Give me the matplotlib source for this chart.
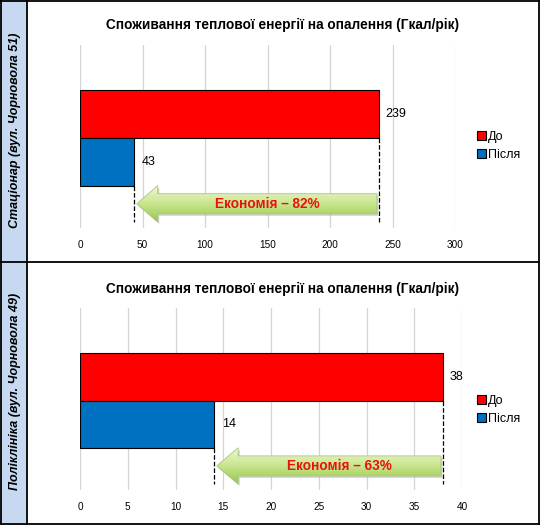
import numpy as np
import matplotlib
matplotlib.use("Agg")
import matplotlib.pyplot as plt
from matplotlib.patches import Polygon, Rectangle
from matplotlib.lines import Line2D

plt.rcParams['font.family'] = ['Liberation Sans', 'DejaVu Sans']

# --- données ---
titre = "Споживання теплової енергії на опалення (Гкал/рік)"
batiments = ["Стаціонар (вул. Чорновола 51)", "Поліклініка (вул. Чорновола 49)"]
series = ["До", "Після"]
avant = [239, 38]
apres = [43, 14]
economie = ["Економія – 82%", "Економія – 63%"]
x_max = [300, 40]
x_pas = [50, 5]

ROUGE = "#ff0000"
BLEU = "#0070c0"

fig = plt.figure(figsize=(5.4, 5.25), dpi=100)
W, H = 540, 525

# bande bleue à gauche + cadre
fig.add_artist(Rectangle((0, 0), 27 / W, 1, transform=fig.transFigure,
                         facecolor="#c6d9f1", edgecolor="none", zorder=0))
for xs, ys in [([1 / W, 1 / W], [0, 1]), ([539 / W, 539 / W], [0, 1]),
               ([27 / W, 27 / W], [0, 1]), ([0, 1], [1 / H, 1 / H]),
               ([0, 1], [524 / H, 524 / H]), ([0, 1], [263 / H, 263 / H])]:
    fig.add_artist(Line2D(xs, ys, transform=fig.transFigure, color="black", lw=1.3))

# positions des panneaux (en pixels)
ax_pos = [(80, 455, 45, 228), (80, 462, 308, 490)]
titre_y = [25, 289]
label_y = [130, 391]

gradient = np.linspace(0, 1, 64).reshape(-1, 1)
cmap_vert = matplotlib.colors.LinearSegmentedColormap.from_list(
    "vert", ["#f2f9d6", "#c9e58f", "#97c94c"])

for i in range(2):
    x0, x1, y0, y1 = ax_pos[i]
    ax = fig.add_axes([x0 / W, 1 - y1 / H, (x1 - x0) / W, (y1 - y0) / H])
    xm = x_max[i]

    b1 = ax.barh(1, avant[i], height=1, color=ROUGE, edgecolor="black", lw=0.8,
                 label=series[0], zorder=3)
    b2 = ax.barh(0, apres[i], height=1, color=BLEU, edgecolor="black", lw=0.8,
                 label=series[1], zorder=3)

    ax.text(avant[i] + xm * 0.017, 1, str(avant[i]), va="center", ha="left", fontsize=9)
    ax.text(apres[i] + xm * 0.021, 0, str(apres[i]), va="center", ha="left", fontsize=9)

    # pointillés
    y_bas = -1.25
    ax.plot([apres[i], apres[i]], [-0.5, y_bas], ls="--", color="black", lw=0.9, zorder=4)
    ax.plot([avant[i], avant[i]], [0.5, y_bas], ls="--", color="black", lw=0.9, zorder=4)

    # flèche d'économie
    pointe = apres[i] + xm * 0.008
    queue = avant[i] - xm * 0.005
    tete = xm * 0.056
    yc, hh, hc = -0.87, 0.38, 0.21
    pts = [(pointe, yc), (pointe + tete, yc + hh), (pointe + tete, yc + hc),
           (queue, yc + hc), (queue, yc - hc), (pointe + tete, yc - hc),
           (pointe + tete, yc - hh)]
    ombre = Polygon([(px + xm * 0.004, py - 0.04) for px, py in pts], closed=True,
                    facecolor="#b0b0b0", edgecolor="none", alpha=0.6, zorder=4)
    ax.add_patch(ombre)
    fl = Polygon(pts, closed=True, facecolor="none", edgecolor="#a8c878", lw=0.6, zorder=6)
    ax.add_patch(fl)
    im = ax.imshow(gradient, cmap=cmap_vert, aspect="auto", origin="upper",
                   extent=[pointe, queue, yc - hh, yc + hh], zorder=5)
    im.set_clip_path(fl)
    ax.text((pointe + tete + queue) / 2, yc, economie[i], color="#e8140c",
            fontsize=9.8, fontweight="bold", ha="center", va="center", zorder=7)

    ax.set_xlim(0, xm)
    ax.set_ylim(-1.375, 2.44)
    ax.set_xticks(np.arange(0, xm + 1, x_pas[i]))
    ax.set_yticks([])
    ax.tick_params(axis="x", length=0, pad=9, labelsize=7.2)
    ax.grid(axis="x", color="#d4d4d4", lw=0.9, zorder=0)
    ax.set_axisbelow(True)
    for s in ax.spines.values():
        s.set_visible(False)

    # légende
    leg_y = (titre_y[i] - 25 + 146) / H
    fig.legend(handles=[b1, b2], labels=series, loc="center left",
               bbox_to_anchor=(472 / W, 1 - leg_y), frameon=False, fontsize=9,
               handlelength=0.7, handleheight=0.7, handletextpad=0.2,
               labelspacing=0.5, borderaxespad=0)

    fig.text(282 / W, 1 - titre_y[i] / H, titre, ha="center", va="center",
             fontsize=9.8, fontweight="bold")
    fig.text(15 / W, 1 - label_y[i] / H, batiments[i], rotation=90, ha="center",
             va="center", fontsize=9, fontweight="bold", style="italic")

fig.savefig("out.png", dpi=100)
